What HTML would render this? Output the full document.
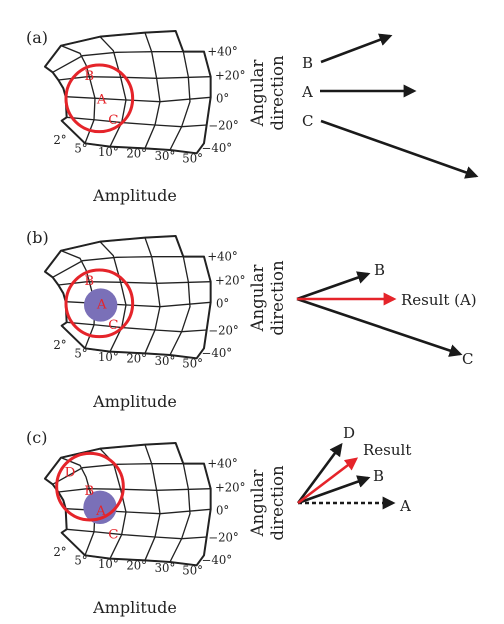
<!DOCTYPE html>
<html><head><meta charset="utf-8">
<style>
html,body{margin:0;padding:0;background:#fff;}
svg{display:block;font-family:"DejaVu Serif","Liberation Serif",serif;}
</style></head>
<body>
<svg id="fig" width="504" height="624" viewBox="0 0 504 624" xmlns="http://www.w3.org/2000/svg">
<defs>
<marker id="ahk" markerWidth="5" markerHeight="5" refX="4" refY="2.5" orient="auto" markerUnits="strokeWidth"><path d="M0,0 L5,2.5 L0,5 Z" fill="#1a1a1a"/></marker>
<marker id="ahr" markerWidth="5" markerHeight="5" refX="4" refY="2.5" orient="auto" markerUnits="strokeWidth"><path d="M0,0 L5,2.5 L0,5 Z" fill="#e5242a"/></marker>
</defs>
<g id="panels"></g>
</svg>
<script>
const panelOffsets=[20,225,432];
const panelLetters=["(a)","(b)","(c)"];
const ampTicks=["2°","5°","10°","20°","30°","50°"];
const angTicks=["+40°","+20°","0°","−20°","−40°"];

function gridMarkup(){
  const rows=[
    "183,77 300,50 435,38 527,33",
    "158,157 248,107 350,97 460,95 612,95",
    "175,180 262,170 370,172 470,175 632,170",
    "197,230 288,235 380,240 480,245 632,232",
    "200,292 290,300 370,308 465,315 545,320 620,315",
    "255,370 330,380 435,385 510,390 590,400"];
  const cols=[
    "183,77 240,100 258,135 268,170 285,235 282,300 255,370",
    "300,50 340,92 362,172 378,240 365,308 330,380",
    "435,38 455,95 470,175 480,245 465,315 435,385",
    "527,33 550,95 565,170 570,245 545,320 510,390"];
  const outline="183,77 300,50 435,38 527,33 550,95 612,95 632,170 632,232 620,315 612,370 590,400 510,390 435,385 330,380 255,370 185,302 200,292 197,230 190,205 175,180 158,157 135,140 183,77";
  let s='';
  rows.forEach(r=>{s+=`<polyline points="${r}" fill="none" stroke="#222" stroke-width="4"/>`;});
  cols.forEach(c=>{s+=`<polyline points="${c}" fill="none" stroke="#222" stroke-width="4"/>`;});
  s+=`<polygon points="${outline}" fill="none" stroke="#222" stroke-width="6" stroke-linejoin="round"/>`;
  return s;
}
const ampPos=[[180,372],[243,398],[325,408],[410,413],[495,420],[578,428]];
const angPos=[[622,106],[645,178],[648,248],[625,328],[605,396]];

let out='';
panelOffsets.forEach((off,i)=>{
  out+=`<g>`;
  out+=`<g transform="translate(0,${off}) scale(0.3333)">`;
  out+=gridMarkup();
  ampTicks.forEach((t,k)=>{out+=`<text x="${ampPos[k][0]}" y="${ampPos[k][1]}" font-size="35" fill="#222" text-anchor="middle">${t}</text>`;});
  angTicks.forEach((t,k)=>{out+=`<text x="${angPos[k][0]}" y="${angPos[k][1]}" font-size="35" fill="#222">${t}</text>`;});
  if(i<2){
    if(i===1) out+=`<circle cx="302" cy="240" r="50" fill="#7a70b8"/>`;
    out+=`<circle cx="298" cy="235" r="100" fill="none" stroke="#e5242a" stroke-width="9"/>`;
    out+=`<text x="268" y="180" font-size="40" fill="#e5242a" text-anchor="middle">B</text>`;
    out+=`<text x="305" y="250" font-size="40" fill="#e5242a" text-anchor="middle">A</text>`;
    out+=`<text x="340" y="312" font-size="40" fill="#e5242a" text-anchor="middle">C</text>`;
  } else {
    out+=`<circle cx="300" cy="226" r="50" fill="#7a70b8"/>`;
    out+=`<circle cx="270" cy="164" r="100" fill="none" stroke="#e5242a" stroke-width="9"/>`;
    out+=`<text x="210" y="134" font-size="40" fill="#e5242a" text-anchor="middle">D</text>`;
    out+=`<text x="268" y="189" font-size="40" fill="#e5242a" text-anchor="middle">B</text>`;
    out+=`<text x="303" y="249" font-size="40" fill="#e5242a" text-anchor="middle">A</text>`;
    out+=`<text x="340" y="319" font-size="40" fill="#e5242a" text-anchor="middle">C</text>`;
  }
  out+=`</g>`;
  const ly=[43,243,443][i];
  out+=`<text x="26" y="${ly}" font-size="16" fill="#222">${panelLetters[i]}</text>`;
  const ay=[201,407,613][i];
  out+=`<text x="135" y="${ay}" font-size="16" fill="#222" text-anchor="middle">Amplitude</text>`;
  const cy=[93,298,503][i];
  out+=`<text transform="translate(263,${cy}) rotate(-90)" font-size="16.5" fill="#222" text-anchor="middle">Angular</text>`;
  out+=`<text transform="translate(283,${cy}) rotate(-90)" font-size="16.5" fill="#222" text-anchor="middle">direction</text>`;
  out+=`</g>`;
});

function arrow(name,x1,y1,x2,y2,red,dash){
  return `<line x1="${x1}" y1="${y1}" x2="${x2}" y2="${y2}" stroke="${red?'#e5242a':'#1a1a1a'}" stroke-width="2.6" ${dash?'stroke-dasharray="4,3"':''} marker-end="url(#${red?'ahr':'ahk'})"/>`;
}
function lbl(name,t,x,y){return `<text x="${x}" y="${y}" font-size="15" fill="#222">${t}</text>`;}
// panel a vectors
out+=lbl('vector-label-b','B',302,68)+lbl('vector-label-a','A',302,97)+lbl('vector-label-c','C',302,126);
out+=arrow('vector-b',321,62,390,36)+arrow('vector-a',320,91,414,91)+arrow('vector-c',321,121,476,176);
// panel b
out+=arrow('vector-b',297,299,368,274)+arrow('vector-c',297,299,460,354)+arrow('result-vector',297,299,394,299,true);
out+=lbl('vector-label-b','B',374,275)+lbl('result-label','Result (A)',401,305)+lbl('vector-label-c','C',462,364);
// panel c
out+=arrow('vector-a',298,503,393,503,false,true)+arrow('vector-b',298,503,368,478)+arrow('vector-d',298,503,341,445)+arrow('result-vector',298,503,356,459,true);
out+=lbl('vector-label-d','D',343,438)+lbl('result-label','Result',363,455)+lbl('vector-label-b','B',373,481)+lbl('vector-label-a','A',400,511);
document.getElementById('panels').innerHTML=out;
</script>
</body></html>
